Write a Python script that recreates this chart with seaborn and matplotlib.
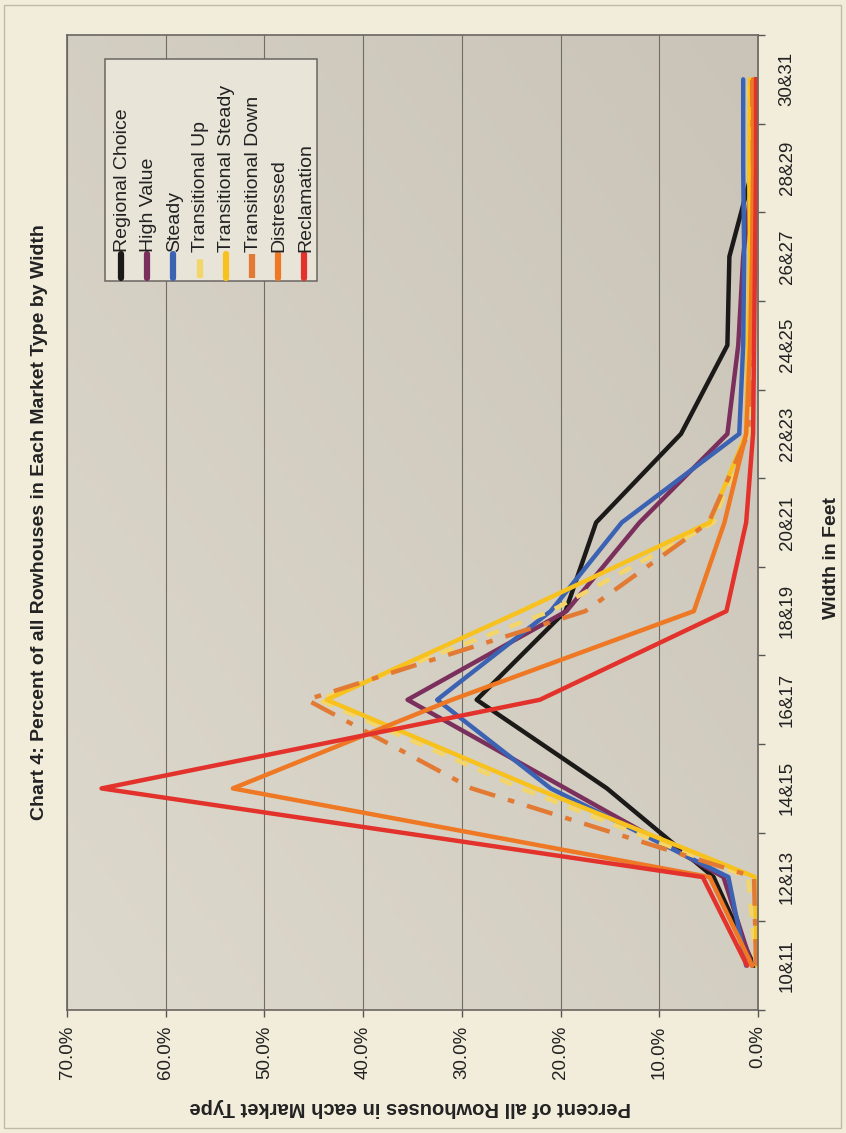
import numpy as np
import pandas as pd
import matplotlib
matplotlib.use("Agg")
import matplotlib.pyplot as plt
import seaborn as sns
from matplotlib.lines import Line2D
from matplotlib.patches import Rectangle

# widths in feet (category axis, bottom to top)
widths = ['10&11', '12&13', '14&15', '16&17', '18&19', '20&21',
          '22&23', '24&25', '26&27', '28&29', '30&31']

# percent of rowhouses in each market type
regional_choice = [0.4, 4.5, 15.3, 28.5, 19.5, 16.4, 7.8, 3.1, 2.9, 0.5, 0.2]
high_value = [0.6, 3.5, 19.5, 35.5, 19.4, 12.0, 3.1, 2.0, 1.5, 0.5, 0.3]
steady = [1.2, 3.0, 21.0, 32.5, 21.0, 13.8, 1.9, 1.5, 1.4, 1.5, 1.5]
transitional_up = [0.2, 1.0, 24.0, 44.5, 21.0, 4.5, 1.0, 0.8, 0.6, 0.8, 0.9]
transitional_steady = [0.1, 0.3, 22.5, 43.7, 24.0, 4.9, 1.2, 1.0, 0.8, 0.9, 0.8]
transitional_down = [0.2, 0.4, 29.0, 45.7, 17.5, 5.0, 1.0, 0.6, 0.5, 0.5, 0.6]
distressed = [0.6, 4.9, 53.2, 31.0, 6.5, 3.4, 1.2, 0.8, 0.6, 0.5, 0.5]
reclamation = [1.1, 5.6, 66.5, 22.1, 3.2, 1.2, 0.5, 0.4, 0.3, 0.2, 0.2]

market_types = ['Regional Choice', 'High Value', 'Steady', 'Transitional Up',
                'Transitional Steady', 'Transitional Down', 'Distressed',
                'Reclamation']
series = [regional_choice, high_value, steady, transitional_up,
          transitional_steady, transitional_down, distressed, reclamation]
colors = ['#1c1a18', '#7a2f5c', '#3c62b4', '#f3d56a',
          '#f8c21e', '#e27a34', '#ee7824', '#e3322b']
styles = ['-', '-', '-', (0, (3, 2.5)), '-', (0, (6, 3, 1.5, 3)), '-', '-']

df = pd.DataFrame({
    'Width': widths * len(series),
    'pos': list(range(len(widths))) * len(series),
    'Percent': sum(series, []),
    'Market Type': np.repeat(market_types, len(widths)),
})

sns.set_theme(style='white')
plt.rcParams['font.family'] = ['Liberation Sans', 'DejaVu Sans']

W, H = 846, 1133
page = '#f2eddb'
fig = plt.figure(figsize=(W / 100, H / 100), dpi=100, facecolor=page)
ax = fig.add_axes([67 / W, 1 - 1010 / H, (758 - 67) / W, (1010 - 35) / H])
ax.set_facecolor('#d3cfc3')

# soft shading of the plot area, lighter at the lower left
gx, gy = np.meshgrid(np.linspace(0, 1, 200), np.linspace(0, 1, 200))
shade = (gx * 0.5 + gy * 0.5)
ax.imshow(shade, extent=[0, 1, 0, 1], transform=ax.transAxes, origin='lower',
          cmap=matplotlib.colors.LinearSegmentedColormap.from_list(
              'bg', ['#ddd9cc', '#c9c4b7']), aspect='auto', zorder=0)
ax.set_axisbelow(True)

for name, col, ls in zip(market_types, colors, styles):
    sub = df[df['Market Type'] == name]
    sns.lineplot(data=sub, x='Percent', y='pos', orient='y', estimator=None,
                 color=col, linestyle=ls, lw=3.2, ax=ax, legend=False)

# value axis (horizontal, reversed)
ax.set_xlim(70, 0)
ax.set_xticks(range(0, 80, 10))
ax.set_xticklabels([f'{v:.1f}%' for v in range(0, 80, 10)], rotation=90,
                   fontsize=13.5, color='#222222')
ax.tick_params(axis='x', length=5, width=1, color='#555555', pad=6, bottom=True)
ax.grid(axis='x', color='#716c66', lw=0.8)
ax.grid(axis='y', visible=False)

# category axis on the right
ax.set_ylim(-0.5, len(widths) - 0.5)
ax.yaxis.tick_right()
ax.set_yticks(range(len(widths)))
ax.set_yticklabels(widths, rotation=90, va='center', fontsize=13.5,
                   color='#222222')
ax.set_yticks(np.arange(-0.5, len(widths), 1), minor=True)
ax.tick_params(axis='y', which='major', length=0, pad=15)
ax.tick_params(axis='y', which='minor', length=5, width=1, color='#555555',
               right=True, left=False)
ax.set_xlabel('')
ax.set_ylabel('')

for s in ax.spines.values():
    s.set_color('#6a6560')
    s.set_linewidth(1.2)

fig.text(40 / W, 1 - 522 / H,
         'Chart 4: Percent of all Rowhouses in Each Market Type by Width',
         rotation=90, ha='center', va='center', fontsize=14,
         fontweight='bold', color='#222222')
fig.text(410 / W, 1 - 1107 / H, 'Percent of all Rowhouses in each Market Type',
         rotation=180, ha='center', va='center', fontsize=14.5,
         fontweight='bold', color='#222222')
fig.text(831 / W, 1 - 558 / H, 'Width in Feet', rotation=90, ha='center',
         va='center', fontsize=14, fontweight='bold', color='#222222')

# legend (rotated like the rest of the page)
fig.add_artist(Rectangle((105 / W, 1 - 281 / H), (317 - 105) / W, (281 - 59) / H,
                         transform=fig.transFigure, facecolor='#e8e4d8',
                         edgecolor='#6a6560', lw=1.1, zorder=5))
for i, (name, col, ls) in enumerate(zip(market_types, colors, styles)):
    xc = (121 + 26.2 * i) / W
    fig.add_artist(Line2D([xc, xc], [1 - 278 / H, 1 - 254 / H],
                          transform=fig.transFigure, color=col, lw=4.5,
                          linestyle=ls, solid_capstyle='round', zorder=6))
    fig.text(xc + 1 / W, 1 - 252 / H, name, rotation=90, ha='center',
             va='bottom', fontsize=14, color='#222222', zorder=7)

# faint outer frame of the chart object
fig.add_artist(Rectangle((4 / W, 1 - 1128 / H), (841 - 4) / W, (1128 - 5) / H,
                         transform=fig.transFigure, fill=False,
                         edgecolor='#bfb9a8', lw=1.0, zorder=1))

fig.savefig('out.png', dpi=100, facecolor=page)
